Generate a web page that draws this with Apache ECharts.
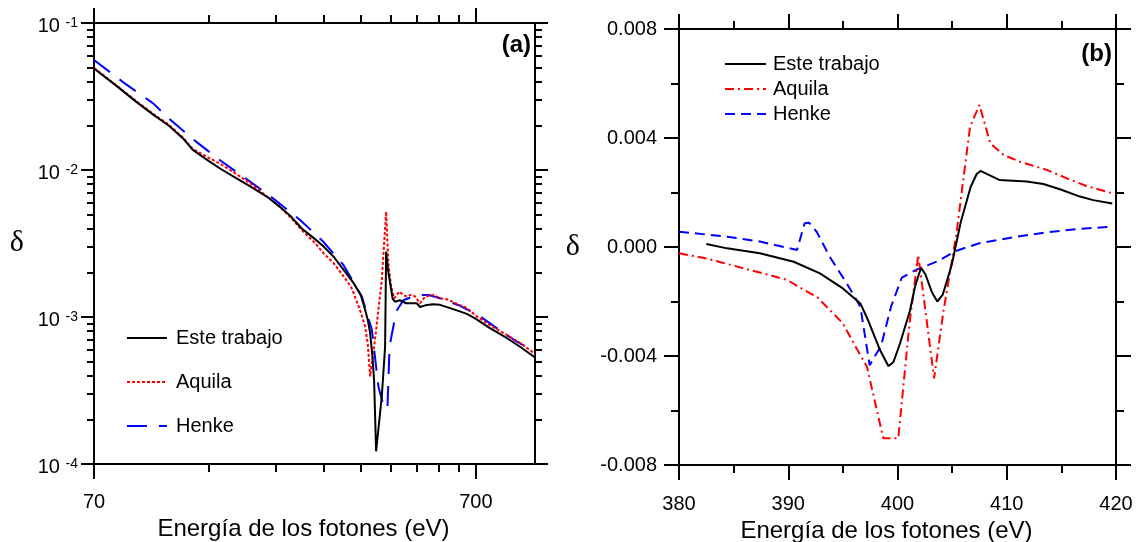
<!DOCTYPE html>
<html><head><meta charset="utf-8">
<script src="https://cdn.jsdelivr.net/npm/echarts@6/dist/echarts.min.js"></script>
<style>html,body{margin:0;padding:0;background:#fff}#c{width:1137px;height:542px}</style>
</head><body><div id="c"></div>
<script>
// ---- Panel (a): log-log, energy (eV) vs delta ----
const esteA = [[70,0.0490],[80,0.0375],[90,0.0293],[100,0.0238],[110,0.0200],[120,0.0163],[127,0.0137],[140,0.0115],[150,0.0102],[165,0.0088],[180,0.0077],[200,0.0065],[215,0.0056],[230,0.0048],[245,0.0040],[265,0.0034],[280,0.0030],[297,0.00257],[315,0.0021],[335,0.0017],[350,0.00140],[359,0.00112],[365,0.00095],[370,0.00078],[375,0.00055],[379,0.00037],[383.6,0.000122],[397,0.000288],[405,0.00063],[407.5,0.00278],[412,0.0021],[417.5,0.0017],[424,0.00133],[430,0.00127],[443,0.0013],[460,0.00124],[471,0.00124],[490,0.00124],[500,0.00117],[516,0.0012],[540,0.00122],[564,0.00121],[599,0.00115],[630,0.0011],[663,0.00105],[700,0.00097],[762,0.00084],[843,0.00072],[920,0.00062],[1000,0.00053]];
const aquilaA = [[70,0.0495],[80,0.0378],[90,0.0296],[100,0.0241],[110,0.0203],[120,0.0165],[127,0.0139],[140,0.0121],[150,0.0110],[165,0.0094],[180,0.0081],[200,0.0065],[215,0.0056],[230,0.0047],[245,0.0039],[265,0.0032],[280,0.0027],[297,0.00232],[315,0.0019],[330,0.0016],[348,0.00112],[359,0.00086],[365,0.00065],[370,0.000394],[381,0.000699],[397,0.00179],[407.5,0.0052],[413,0.00232],[420,0.0016],[428,0.00134],[441.5,0.00149],[450,0.00142],[461,0.00138],[475,0.00142],[485,0.00138],[500,0.00124],[516,0.00138],[542,0.00141],[564,0.00134],[587,0.00132],[620,0.00124],[663,0.00115],[700,0.00102],[762,0.00088],[843,0.000755],[920,0.00066],[1000,0.00056]];
const henkeA = [[70,0.0560],[85,0.0382],[100,0.0284],[109,0.0228],[129.5,0.0156],[150,0.0116],[179,0.00838],[208,0.00629],[242.6,0.00457],[279,0.00325],[315,0.00226],[352,0.00138],[374,0.000817],[389,0.000336],[399.4,0.00026],[410.7,0.000236],[416,0.00063],[433,0.00109],[452,0.0013],[490,0.00141],[526,0.00141],[564,0.00134],[637,0.00119],[718,0.00101],[794,0.00084],[880,0.00070],[1000,0.00058]];
const xMajorA = [70, 700];
const xMinorA = [140, 210, 280, 350, 420, 490, 560, 630];
const yMajorA = [0.0001, 0.001, 0.01, 0.1];
const yMinorA = [0.0002,0.0003,0.0004,0.0005,0.0006,0.0007,0.0008,0.0009,0.002,0.003,0.004,0.005,0.006,0.007,0.008,0.009,0.02,0.03,0.04,0.05,0.06,0.07,0.08,0.09];

// ---- Panel (b): linear, 380-420 eV ----
const esteB = [[382.5,0.00011],[384.4,-0.00005],[387.4,-0.00023],[390.5,-0.00054],[392.9,-0.00097],[395,-0.00152],[396.6,-0.00207],[397.3,-0.00268],[398.4,-0.00378],[399.16,-0.00437],[399.62,-0.00423],[400.23,-0.00354],[401.14,-0.00234],[401.6,-0.00146],[402.15,-0.00076],[402.55,-0.0010],[403.13,-0.00164],[403.64,-0.0020],[404.13,-0.00176],[404.96,-0.00066],[405.8,0.00093],[406.7,0.00221],[407.25,0.00268],[407.6,0.00279],[408.16,0.00268],[409.32,0.00246],[410.6,0.00243],[411.83,0.0024],[413.35,0.00231],[414.87,0.00212],[416.7,0.00185],[417.92,0.00172],[419.66,0.0016]];
const aquilaB = [[380,-0.00023],[382.5,-0.00042],[385.9,-0.00078],[388.3,-0.00103],[389.9,-0.00121],[392,-0.0017],[392.6,-0.00182],[395,-0.0028],[396,-0.00354],[397.2,-0.00439],[398.7,-0.00702],[400.07,-0.00702],[401.1,-0.0028],[401.9,-0.00029],[403.35,-0.00482],[404.2,-0.00237],[405.4,0.0005],[406.33,0.00344],[406.64,0.00441],[407.5,0.00521],[408.5,0.0038],[409.7,0.00338],[411.2,0.00313],[413.66,0.00283],[415.5,0.00252],[417.3,0.00224],[419.66,0.00197]];
const henkeB = [[380,0.00056],[384.4,0.00038],[387.4,0.0002],[390.8,-0.00011],[391.5,0.00087],[391.9,0.00089],[392.6,0.00056],[393.8,-0.00036],[395.35,-0.00133],[396.6,-0.00219],[397.45,-0.00434],[398.5,-0.00362],[399.4,-0.0022],[400.4,-0.00112],[401.8,-0.00082],[403.7,-0.00052],[405.3,-0.00015],[407.5,0.00014],[410.6,0.00036],[413.66,0.00054],[416.7,0.00067],[419.66,0.00074]];

const seriesNames = ['Este trabajo', 'Aquila', 'Henke'];
const xTitle = 'Energía de los fotones (eV)';
const yTitle = 'δ';

const FONT = '"Liberation Sans", Arial, sans-serif';
const SERIF = '"Liberation Serif", "DejaVu Serif", serif';
const BLK = '#000';
const axLine = {show: true, onZero: false, lineStyle: {color: BLK, width: 2}};
const noLine = {show: false, onZero: false};

function logX(pos, ticks, len, labels) {
  return {
    type: 'log', logBase: 10, gridIndex: 0, position: pos, min: 70, max: 1000,
    axisLine: labels !== null ? axLine : noLine,
    axisTick: {show: true, customValues: ticks, length: len, lineStyle: {color: BLK, width: 2}},
    axisLabel: labels ? {show: true, customValues: labels, fontSize: 20, fontFamily: FONT, color: BLK, margin: 28} : {show: false},
    splitLine: {show: false}
  };
}
function logY(pos, ticks, len, labels) {
  return {
    type: 'log', logBase: 10, gridIndex: 0, position: pos, min: 0.0001, max: 0.1,
    axisLine: labels !== null ? axLine : noLine,
    axisTick: {show: true, customValues: ticks, length: len, lineStyle: {color: BLK, width: 2}},
    axisLabel: labels ? {
      show: true, customValues: labels, margin: 16, padding: [6, 0, 0, 0],
      formatter: function (v) { return '{b|10 }{s|' + Math.round(Math.log10(v)) + '}'; },
      rich: {
        b: {fontSize: 20, lineHeight: 20, fontFamily: FONT, color: BLK},
        s: {fontSize: 14, lineHeight: 14, fontFamily: FONT, color: BLK, verticalAlign: 'top'}
      }
    } : {show: false},
    splitLine: {show: false}
  };
}

const xA0 = logX('bottom', xMajorA, 15, xMajorA);
Object.assign(xA0, {name: xTitle, nameLocation: 'middle', nameGap: 51,
  nameTextStyle: {fontSize: 24, fontFamily: FONT, color: BLK, padding: [0, 22, 0, 0]}});
const yA0 = logY('left', yMajorA, 13, yMajorA);
Object.assign(yA0, {name: yTitle, nameLocation: 'middle', nameRotate: 0, nameGap: 70,
  nameTextStyle: {fontSize: 30, fontFamily: SERIF, color: BLK}});

function linX(pos, label) {
  const a = {
    type: 'value', gridIndex: 1, position: pos, min: 380, max: 420, interval: 10,
    axisLine: axLine,
    axisTick: {show: true, length: 15, lineStyle: {color: BLK, width: 2}},
    minorTick: {show: true, splitNumber: 2, length: 8, lineStyle: {color: BLK, width: 2}},
    axisLabel: label ? {show: true, fontSize: 20, fontFamily: FONT, color: BLK, margin: 29} : {show: false},
    splitLine: {show: false}, minorSplitLine: {show: false}
  };
  if (label) Object.assign(a, {name: xTitle, nameLocation: 'middle', nameGap: 51,
    nameTextStyle: {fontSize: 24, fontFamily: FONT, color: BLK, padding: [0, 22, 0, 0]}});
  return a;
}
function linY(pos, label) {
  const a = {
    type: 'value', gridIndex: 1, position: pos, min: -0.008, max: 0.008, interval: 0.004,
    axisLine: axLine,
    axisTick: {show: true, length: 15, lineStyle: {color: BLK, width: 2}},
    minorTick: {show: true, splitNumber: 2, length: 8, lineStyle: {color: BLK, width: 2}},
    axisLabel: label ? {show: true, fontSize: 20, fontFamily: FONT, color: BLK, margin: 22,
      formatter: function (v) { return Math.abs(v) < 1e-9 ? '0.000' : v.toFixed(3); }} : {show: false},
    splitLine: {show: false}, minorSplitLine: {show: false}
  };
  if (label) Object.assign(a, {name: yTitle, nameLocation: 'middle', nameRotate: 0, nameGap: 99,
    nameTextStyle: {fontSize: 30, fontFamily: SERIF, color: BLK}});
  return a;
}

function ln(name, data, xi, yi, color, type, z) {
  return {name: name, type: 'line', xAxisIndex: xi, yAxisIndex: yi, data: data, symbol: 'none',
    showSymbol: false, z: z, lineStyle: {color: color, width: 2, type: type}, itemStyle: {color: color}};
}

const legendBase = {orient: 'vertical', padding: 0, itemHeight: 14,
  itemStyle: {opacity: 0, borderWidth: 0}};

const chart = echarts.init(document.getElementById('c'), null, {renderer: 'canvas'});
chart.setOption({
  animation: false,
  backgroundColor: '#fff',
  grid: [
    {left: 94, top: 23, width: 441, height: 441, containLabel: false, outerBoundsMode: 'none'},
    {left: 679, top: 29, width: 437, height: 436, containLabel: false, outerBoundsMode: 'none'}
  ],
  xAxis: [
    xA0,
    logX('bottom', xMinorA, 8, null),
    logX('top', xMajorA, 15, false),
    logX('top', xMinorA, 8, null),
    linX('bottom', true),
    linX('top', false)
  ],
  yAxis: [
    yA0,
    logY('left', yMinorA, 7, null),
    logY('right', yMajorA, 13, false),
    logY('right', yMinorA, 7, null),
    linY('left', true),
    linY('right', false)
  ],
  legend: [
    Object.assign({}, legendBase, {data: seriesNames, left: 126, top: 328, itemWidth: 40, itemGap: 24,
      textStyle: {fontSize: 20, fontFamily: FONT, color: BLK, padding: [0, 0, 0, 4]}}),
    Object.assign({}, legendBase, {data: seriesNames.map(n => '(b) ' + n), left: 724, top: 54, itemWidth: 41, itemGap: 5,
      formatter: n => n.replace('(b) ', ''),
      textStyle: {fontSize: 20, fontFamily: FONT, color: BLK, padding: [0, 0, 0, 2]}})
  ],
  graphic: [
    {type: 'text', x: 531, y: 45, style: {text: '(a)', font: 'bold 24px "Liberation Sans", Arial, sans-serif', fill: BLK, align: 'right', verticalAlign: 'middle', textAlign: 'right', textVerticalAlign: 'middle'}},
    {type: 'text', x: 1112, y: 54, style: {text: '(b)', font: 'bold 24px "Liberation Sans", Arial, sans-serif', fill: BLK, align: 'right', verticalAlign: 'middle', textAlign: 'right', textVerticalAlign: 'middle'}}
  ],
  series: [
    ln(seriesNames[0], esteA, 0, 0, '#000000', 'solid', 4),
    ln(seriesNames[1], aquilaA, 0, 0, '#ff0000', [3, 2], 3),
    ln(seriesNames[2], henkeA, 0, 0, '#0000ff', [20, 12], 2),
    ln('(b) ' + seriesNames[0], esteB, 4, 4, '#000000', 'solid', 4),
    ln('(b) ' + seriesNames[1], aquilaB, 4, 4, '#ff0000', [9, 4, 2, 4], 3),
    ln('(b) ' + seriesNames[2], henkeB, 4, 4, '#0000ff', [10, 6], 2)
  ]
});
</script>
</body></html>
